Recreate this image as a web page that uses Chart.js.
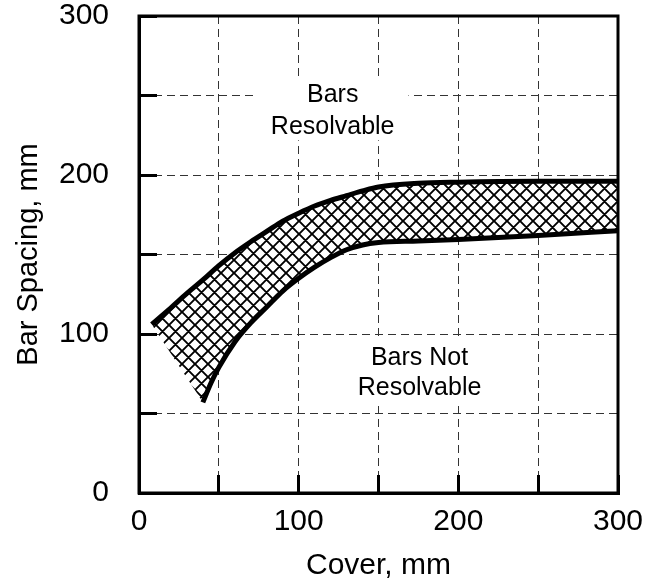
<!DOCTYPE html>
<html>
<head>
<meta charset="utf-8">
<script src="https://cdn.jsdelivr.net/npm/chart.js@4/dist/chart.umd.min.js"></script>
<style>
  html, body { margin: 0; padding: 0; background: #fff; }
  canvas { display: block; }
</style>
</head>
<body>
<canvas id="chart" width="658" height="580"></canvas>
<script>
// Upper boundary of the transition band (cover, mm -> bar spacing, mm)
const coverUpper   = [8, 20, 30, 40, 50, 60, 70, 80, 90, 100, 110, 120, 130, 140, 150, 175, 200, 250, 300];
const spacingUpper = [106, 116.5, 125.5, 134, 143, 151, 158, 164.5, 171, 176, 180.5, 184, 187, 190, 192.5, 194.8, 195.5, 196, 196];

// Lower boundary of the transition band
const coverLower   = [40, 45, 50, 60, 70, 80, 90, 100, 110, 120, 130, 140, 150, 175, 200, 250, 300];
const spacingLower = [57, 69, 79, 95, 107, 117, 127, 135, 142, 148, 153, 156, 157.5, 158.5, 159.5, 162, 165];

// Labelled tick values (unlabelled ticks every 50 in between)
const labelledTicks = [0, 100, 200, 300];

// Region captions
const captionAbove = ['Bars', 'Resolvable'];
const captionBelow = ['Bars Not', 'Resolvable'];

const FONT = '"Liberation Sans", Arial, Helvetica, sans-serif';

const upperPts = coverUpper.map((x, i) => ({ x, y: spacingUpper[i] }));
const lowerPts = coverLower.map((x, i) => ({ x, y: spacingLower[i] }));
// closed outline of the band: along the upper edge, back along the lower edge
const bandPts = upperPts.concat(lowerPts.slice().reverse());

const canvas = document.getElementById('chart');
const ctx = canvas.getContext('2d');

function crossHatch(target) {
  const s = 13;
  const tile = document.createElement('canvas');
  tile.width = s; tile.height = s;
  const g = tile.getContext('2d');
  g.fillStyle = '#fff';
  g.fillRect(0, 0, s, s);
  g.strokeStyle = '#000';
  g.lineWidth = 1.9;
  g.beginPath();
  for (const k of [-1, 0, 1]) {
    g.moveTo(k * s - 2, -2);     g.lineTo(k * s + s + 2, s + 2);
    g.moveTo(k * s + s + 2, -2); g.lineTo(k * s - 2, s + 2);
  }
  g.stroke();
  return target.createPattern(tile, 'repeat');
}

// solid frame around the plotting area
const frame = {
  id: 'frame',
  afterDatasetsDraw(chart) {
    const { ctx, chartArea: a } = chart;
    ctx.save();
    ctx.lineWidth = 3;
    ctx.strokeStyle = '#000';
    ctx.strokeRect(a.left, a.top, a.right - a.left, a.bottom - a.top);
    ctx.restore();
  }
};

// captions placed in data units, on a white backing that hides the grid
const captionBlocks = [
  { text: captionAbove, cx: 121.3, base: [246, 225.6] },
  { text: captionBelow, cx: 175.7, base: [80.5, 61.6] }
];
const captions = {
  id: 'captions',
  beforeDatasetsDraw(chart) {
    const { ctx, scales: { x, y } } = chart;
    ctx.save();
    ctx.font = '25px ' + FONT;
    ctx.fillStyle = '#fff';
    for (const b of captionBlocks) {
      const w = Math.max(...b.text.map(t => ctx.measureText(t).width));
      const cx = x.getPixelForValue(b.cx);
      const top = y.getPixelForValue(b.base[0]) - 24;
      const bottom = y.getPixelForValue(b.base[b.base.length - 1]) + 6;
      ctx.fillRect(cx - w / 2 - 14, top, w + 28, bottom - top);
    }
    ctx.restore();
  },
  afterDatasetsDraw(chart) {
    const { ctx, scales: { x, y } } = chart;
    ctx.save();
    ctx.fillStyle = '#000';
    ctx.font = '25px ' + FONT;
    ctx.textAlign = 'center';
    ctx.textBaseline = 'alphabetic';
    for (const b of captionBlocks) {
      b.text.forEach((t, i) => {
        ctx.fillText(t, x.getPixelForValue(b.cx), y.getPixelForValue(b.base[i]));
      });
    }
    ctx.restore();
  }
};

const tickLabel = v => labelledTicks.includes(v) ? String(v) : '';

const gridOpts = {
  color: '#333',
  lineWidth: 1,
  tickLength: -18,
  tickWidth: 3,
  tickColor: '#000'
};
const borderOpts = { display: true, color: '#000', width: 3, dash: [8, 5] };

new Chart(ctx, {
  type: 'line',
  data: {
    datasets: [
      {
        data: upperPts,
        borderColor: '#000',
        borderWidth: 5,
        borderCapStyle: 'butt',
        pointRadius: 0,
        cubicInterpolationMode: 'monotone',
        fill: false
      },
      {
        data: lowerPts,
        borderColor: '#000',
        borderWidth: 5,
        borderCapStyle: 'butt',
        pointRadius: 0,
        cubicInterpolationMode: 'monotone',
        fill: false
      },
      {
        data: bandPts,
        borderWidth: 0,
        borderColor: 'rgba(0,0,0,0)',
        pointRadius: 0,
        tension: 0,
        fill: 'shape',
        backgroundColor: crossHatch(ctx)
      }
    ]
  },
  options: {
    responsive: false,
    animation: false,
    devicePixelRatio: 1,
    events: [],
    layout: { padding: { top: 16, right: 40, left: 0, bottom: 0 } },
    plugins: {
      legend: { display: false },
      tooltip: { enabled: false }
    },
    scales: {
      x: {
        type: 'linear',
        min: 0, max: 300,
        grid: gridOpts,
        border: borderOpts,
        ticks: {
          stepSize: 50,
          autoSkip: false,
          maxRotation: 0,
          padding: 29,
          color: '#000',
          font: { family: FONT, size: 30 },
          callback: tickLabel
        },
        title: {
          display: true,
          text: 'Cover, mm',
          color: '#000',
          font: { family: FONT, size: 30, lineHeight: 1 },
          padding: { top: 0, bottom: -1 }
        },
        afterFit(scale) {
          scale.height = 87;
          scale.paddingLeft = 0; scale.paddingRight = 0;
        }
      },
      y: {
        type: 'linear',
        min: 0, max: 300,
        grid: gridOpts,
        border: borderOpts,
        ticks: {
          stepSize: 50,
          autoSkip: false,
          padding: 48,
          color: '#000',
          font: { family: FONT, size: 30 },
          callback: tickLabel
        },
        title: {
          display: true,
          text: 'Bar Spacing, mm',
          color: '#000',
          font: { family: FONT, size: 29, lineHeight: 1 },
          padding: { top: 14, bottom: 0 }
        },
        afterFit(scale) {
          scale.width = 139;
          scale.paddingTop = 0; scale.paddingBottom = 0;
        }
      }
    }
  },
  plugins: [frame, captions]
});
</script>
</body>
</html>
